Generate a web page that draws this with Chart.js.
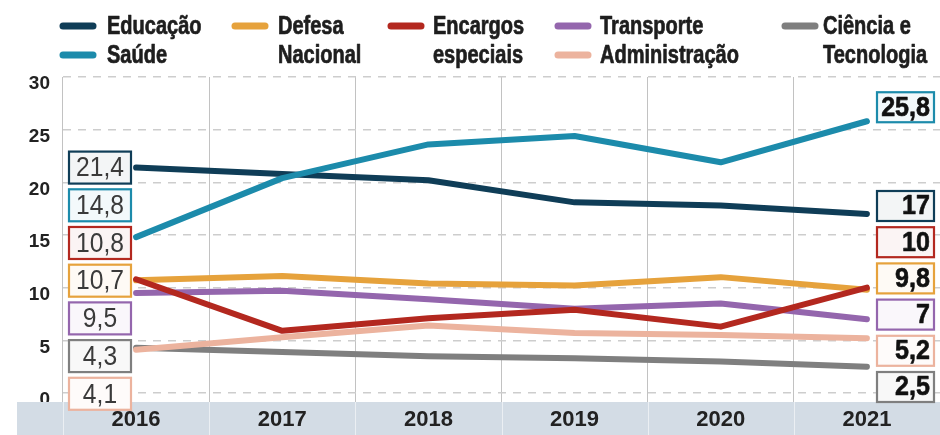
<!DOCTYPE html>
<html>
<head>
<meta charset="utf-8">
<script src="https://cdn.jsdelivr.net/npm/chart.js@4.4.1/dist/chart.umd.min.js"></script>
<style>
  html, body { margin: 0; padding: 0; background: #ffffff; }
  #wrap { width: 940px; height: 435px; position: relative; }
  canvas { display: block; }
</style>
</head>
<body>
<div id="wrap"><canvas id="chart" width="940" height="435"></canvas></div>
<script>
// Despesa por área (2016–2021)
const years = ['2016', '2017', '2018', '2019', '2020', '2021'];
const seriesNames = ['Educação', 'Saúde', 'Defesa Nacional', 'Encargos especiais', 'Transporte', 'Administração', 'Ciência e Tecnologia'];
const legendLabels = ['Educação', 'Saúde', 'Defesa\nNacional', 'Encargos\nespeciais', 'Transporte', 'Administração', 'Ciência e\nTecnologia'];

const educacao      = [21.4, 20.8, 20.2, 18.1, 17.8, 17];
const saude         = [14.8, 20.4, 23.6, 24.4, 21.9, 25.8];
const defesa        = [10.7, 11.1, 10.4, 10.2, 11.0, 9.8];
const encargos      = [10.8, 5.9, 7.1, 7.9, 6.3, 10];
const transporte    = [9.5, 9.7, 8.9, 8.0, 8.5, 7];
const administracao = [4.1, 5.3, 6.4, 5.7, 5.5, 5.2];
const ciencia       = [4.3, 3.9, 3.5, 3.3, 3.0, 2.5];

const yTicks = [0, 5, 10, 15, 20, 25, 30];

const colors = ['#0f3d57', '#1c8bab', '#e6a23c', '#b3281f', '#9466ad', '#ecb39e', '#7f7f7f'];
const drawOrder = [2, 1, 3, 0, 4, 5, 6];
const seriesValues = [educacao, saude, defesa, encargos, transporte, administracao, ciencia];

const fmt = v => String(v).replace('.', ',');

const SANS = '"Liberation Sans", Arial, sans-serif';

// text squeezed horizontally to imitate a condensed face; optional outline thickens it
function condensedText(ctx, text, x, y, squeeze, align, thicken) {
  ctx.save();
  ctx.translate(x, y);
  ctx.scale(squeeze, 1);
  ctx.textAlign = align;
  ctx.textBaseline = 'middle';
  ctx.fillText(text, 0, 0);
  if (thicken) {
    ctx.lineWidth = thicken;
    ctx.lineJoin = 'round';
    ctx.strokeStyle = ctx.fillStyle;
    ctx.strokeText(text, 0, 0);
  }
  ctx.restore();
}

// grey-blue strip behind the year labels
const bandPlugin = {
  id: 'yearBand',
  beforeDatasetsDraw(chart) {
    const { ctx, scales: { x } } = chart;
    const top = x.top + 9;
    ctx.save();
    ctx.fillStyle = '#d3dce5';
    ctx.fillRect(17, top, chart.width - 17, chart.height - top);
    ctx.strokeStyle = 'rgba(255,255,255,0.55)';
    ctx.lineWidth = 1;
    const n = x.ticks.length;
    for (let i = 0; i <= n; i++) {
      const px = Math.round(x.getPixelForValue(i - 0.5)) + 0.5;
      ctx.beginPath();
      ctx.moveTo(px, top);
      ctx.lineTo(px, chart.height);
      ctx.stroke();
    }
    ctx.restore();
  }
};

function drawBox(ctx, bx, by, bw, bh, color) {
  ctx.fillStyle = '#ffffff';
  ctx.fillRect(bx, by, bw, bh);
  ctx.globalAlpha = 0.05;
  ctx.fillStyle = color;
  ctx.fillRect(bx, by, bw, bh);
  ctx.globalAlpha = 1;
  ctx.strokeStyle = color;
  ctx.lineWidth = 2.2;
  ctx.strokeRect(bx, by, bw, bh);
}

// value boxes at both ends of the lines
const valueBoxPlugin = {
  id: 'valueBoxes',
  afterDatasetsDraw(chart) {
    const { ctx, scales: { y }, chartArea } = chart;
    const ds = chart.data.datasets;
    ctx.save();

    // first year: stacked downward from the highest value
    const first = ds.map((d, i) => ({ i, v: d.data[0] })).sort((a, b) => b.v - a.v);
    const lSpace = 37.7, lH = 32, lW = 62, lX = chartArea.left + 6;
    const start = y.getPixelForValue(first[0].v);
    first.forEach((it, k) => {
      const c = start + k * lSpace;
      drawBox(ctx, lX, c - lH / 2, lW, lH, ds[it.i].borderColor);
      ctx.fillStyle = '#3a3a3a';
      ctx.font = '28px ' + SANS;
      condensedText(ctx, fmt(it.v), lX + lW / 2, c + 1, 0.88, 'center');
    });

    // last year: stacked upward from the bottom
    const last = ds.map((d, i) => ({ i, v: d.data[d.data.length - 1] })).sort((a, b) => a.v - b.v);
    const rSpace = 36.2, rH = 30, rW = 57, rX = chartArea.right - 6 - rW;
    let prev = null;
    last.forEach(it => {
      const own = y.getPixelForValue(it.v);
      let c;
      if (prev === null) {
        c = chartArea.bottom - 6;
      } else {
        c = prev - rSpace;
        if (own < c - rSpace) c = own - 14;
      }
      prev = c;
      drawBox(ctx, rX, c - rH / 2, rW, rH, ds[it.i].borderColor);
      ctx.fillStyle = '#111111';
      ctx.font = 'bold 27px ' + SANS;
      condensedText(ctx, fmt(it.v), rX + rW - 4, c + 1, 0.93, 'right', 0.6);
    });
    ctx.restore();
  }
};

// two-row legend across the top
const legendPlugin = {
  id: 'topLegend',
  afterDraw(chart) {
    const { ctx } = chart;
    const slots = [[60, 107, 0], [60, 107, 1], [232, 278, 0], [388, 433, 0], [555, 600, 0], [555, 600, 1], [782, 823, 0]];
    const rowY = [27, 56];
    const lineGap = 29;
    ctx.save();
    legendLabels.forEach((label, i) => {
      const [sx, tx, row] = slots[i];
      const cy = rowY[row];
      ctx.strokeStyle = colors[i];
      ctx.lineWidth = 7;
      ctx.lineCap = 'round';
      ctx.beginPath();
      ctx.moveTo(sx + 3, cy - 1);
      ctx.lineTo(sx + 33, cy - 1);
      ctx.stroke();
      ctx.fillStyle = '#1e1e1e';
      ctx.font = 'bold 25px ' + SANS;
      label.split('\n').forEach((ln, k) => condensedText(ctx, ln, tx, cy + k * lineGap, 0.8, 'left', 0.7));
    });
    ctx.restore();
  }
};

const datasets = seriesNames.map((name, i) => ({
  label: name,
  data: seriesValues[i],
  borderColor: colors[i],
  backgroundColor: colors[i],
  borderWidth: 6,
  borderCapStyle: 'round',
  borderJoinStyle: 'round',
  tension: 0,
  pointRadius: 0,
  fill: false,
  order: drawOrder[i]
}));

new Chart(document.getElementById('chart'), {
  type: 'line',
  data: { labels: years, datasets },
  options: {
    responsive: false,
    animation: false,
    layout: { padding: { top: 77, left: 0, right: 0, bottom: 0 } },
    plugins: { legend: { display: false }, tooltip: { enabled: false } },
    scales: {
      x: {
        offset: true,
        grid: { offset: true, color: '#c2c2c2', lineWidth: 1, drawTicks: true, tickLength: 9 },
        border: { display: false },
        ticks: {
          z: 1,
          padding: 5,
          color: '#222222',
          font: { family: SANS, weight: 'bold', size: 22 }
        },
        afterFit(scale) { scale.height = 42; }
      },
      y: {
        min: 0,
        max: 30,
        afterBuildTicks(scale) { scale.ticks = yTicks.map(v => ({ value: v })); },
        grid: { color: '#cdcdcd', lineWidth: 1.5, drawTicks: false },
        border: { display: false, dash: [8, 7] },
        ticks: {
          padding: 13,
          labelOffset: 7,
          color: '#222222',
          font: { family: SANS, weight: 'bold', size: 19 }
        },
        afterFit(scale) { scale.width = 63; }
      }
    }
  },
  plugins: [bandPlugin, valueBoxPlugin, legendPlugin]
});
</script>
</body>
</html>
